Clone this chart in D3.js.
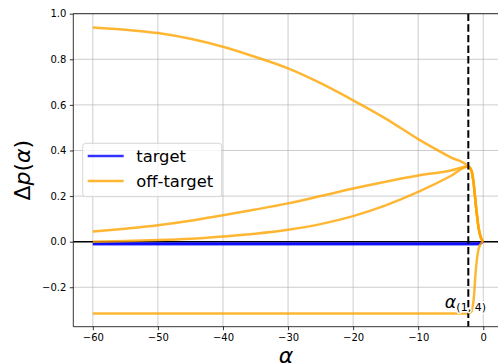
<!DOCTYPE html>
<html>
<head>
<meta charset="utf-8">
<script src="https://cdn.jsdelivr.net/npm/d3@7"></script>
<style>
  html, body { margin: 0; padding: 0; background: #fff; }
  svg { display: block; font-family: "DejaVu Sans", sans-serif; }
</style>
</head>
<body>
<svg id="chart" width="498" height="364"></svg>
<script>
// Sample points along alpha (shared by every series)
const alphas = [-60, -55, -50, -45, -40, -35, -30, -25, -20, -15, -10, -5, -2.3, -1.8, -1.5, -1.1, -0.75, -0.4, 0];

// Target series
const targetA = [-0.008, -0.008, -0.008, -0.008, -0.008, -0.008, -0.008, -0.008, -0.008, -0.008, -0.008, -0.008, -0.008, -0.008, -0.008, -0.008, -0.008, -0.005, 0];
const targetB = [-0.011, -0.011, -0.011, -0.011, -0.011, -0.011, -0.011, -0.011, -0.011, -0.011, -0.011, -0.011, -0.011, -0.011, -0.011, -0.011, -0.010, -0.006, 0];

// Off-target series
const offTop    = [0.94, 0.93, 0.915, 0.89, 0.855, 0.81, 0.76, 0.695, 0.62, 0.54, 0.45, 0.37, 0.33, 0.31, 0.26, 0.15, 0.066, 0.02, 0];
const offUpper  = [0.044, 0.057, 0.072, 0.092, 0.116, 0.141, 0.168, 0.200, 0.233, 0.263, 0.29, 0.312, 0.33, 0.31, 0.26, 0.15, 0.066, 0.02, 0];
const offLower  = [0.0, 0.003, 0.007, 0.013, 0.023, 0.035, 0.052, 0.077, 0.112, 0.159, 0.218, 0.288, 0.33, 0.31, 0.26, 0.15, 0.066, 0.02, 0];
const offNeg    = [-0.315, -0.315, -0.315, -0.315, -0.315, -0.315, -0.315, -0.315, -0.315, -0.315, -0.315, -0.315, -0.315, -0.305, -0.26, -0.11, -0.036, -0.01, 0];

const targetSeries = [targetA, targetB];
const offTargetSeries = [offTop, offUpper, offLower, offNeg];

// Critical alpha marked by the dashed line
const alphaCrit = -2.3;

const xTicks = [-60, -50, -40, -30, -20, -10, 0];
const yTicks = [-0.2, 0.0, 0.2, 0.4, 0.6, 0.8, 1.0];

const legendLabels = ["target", "off-target"];

const svg = d3.select("#chart");
const plot = { left: 73.3, top: 13.7, right: 502.8, bottom: 326.7 };

const x = d3.scaleLinear().domain([-63, 3]).range([plot.left, plot.right]);
const y = d3.scaleLinear().domain([-0.373, 1.0]).range([plot.bottom, plot.top]);

const fmtY = d => d3.format(".1f")(d).replace("-", "\u2212");
const fmtX = d => String(d).replace("-", "\u2212");

// clip region for data
svg.append("defs").append("clipPath").attr("id", "clip")
  .append("rect")
  .attr("x", plot.left).attr("y", plot.top)
  .attr("width", plot.right - plot.left).attr("height", plot.bottom - plot.top);

// grid
const grid = svg.append("g");
grid.selectAll(".gx").data(xTicks).join("line")
  .attr("x1", d => x(d)).attr("x2", d => x(d))
  .attr("y1", plot.top).attr("y2", plot.bottom)
  .attr("stroke", "#b0b0b0").attr("stroke-width", 0.8).attr("stroke-opacity", 0.8);
grid.selectAll(".gy").data(yTicks).join("line")
  .attr("y1", d => y(d)).attr("y2", d => y(d))
  .attr("x1", plot.left).attr("x2", plot.right)
  .attr("stroke", "#b0b0b0").attr("stroke-width", 0.8).attr("stroke-opacity", 0.8);

const data = svg.append("g").attr("clip-path", "url(#clip)");

// zero line
data.append("line")
  .attr("x1", plot.left).attr("x2", plot.right)
  .attr("y1", y(0)).attr("y2", y(0))
  .attr("stroke", "#000").attr("stroke-width", 1.5);

const line = d3.line()
  .x((d, i) => x(alphas[i]))
  .y(d => y(d))
  .curve(d3.curveMonotoneX);

data.selectAll(".target").data(targetSeries).join("path")
  .attr("d", line)
  .attr("fill", "none").attr("stroke", "blue").attr("stroke-opacity", 0.8)
  .attr("stroke-width", 2.5);

data.selectAll(".off").data(offTargetSeries).join("path")
  .attr("d", line)
  .attr("fill", "none").attr("stroke", "orange").attr("stroke-opacity", 0.8)
  .attr("stroke-width", 2.5).attr("stroke-linejoin", "round");

// critical alpha
data.append("line")
  .attr("x1", x(alphaCrit)).attr("x2", x(alphaCrit))
  .attr("y1", plot.top).attr("y2", plot.bottom)
  .attr("stroke", "#000").attr("stroke-width", 2)
  .attr("stroke-dasharray", "7.4,3.2");

// label for critical alpha, with white halo
const lbl = svg.append("text")
  .attr("x", x(alphaCrit) - 23.5).attr("y", 307.5)
  .attr("fill", "#000")
  .attr("stroke", "#fff").attr("stroke-width", 3).attr("stroke-linejoin", "round")
  .attr("paint-order", "stroke");
lbl.append("tspan").attr("font-size", 17.5).attr("font-style", "italic").text("\u03B1");
lbl.append("tspan").attr("font-size", 11).attr("dy", 3).text("(1, 4)");

// axes spines
const spines = svg.append("g").attr("stroke", "#000").attr("stroke-width", 0.8);
spines.append("line").attr("x1", plot.left).attr("x2", plot.left).attr("y1", plot.top).attr("y2", plot.bottom);
spines.append("line").attr("x1", plot.left).attr("x2", plot.right).attr("y1", plot.bottom).attr("y2", plot.bottom);
spines.append("line").attr("x1", plot.left).attr("x2", plot.right).attr("y1", plot.top).attr("y2", plot.top);
spines.append("line").attr("x1", plot.right).attr("x2", plot.right).attr("y1", plot.top).attr("y2", plot.bottom);

// axes
const xAxis = d3.axisBottom(x).tickValues(xTicks).tickFormat(fmtX).tickSizeInner(3.5).tickSizeOuter(0).tickPadding(3.5);
const yAxis = d3.axisLeft(y).tickValues(yTicks).tickFormat(fmtY).tickSizeInner(3.5).tickSizeOuter(0).tickPadding(3.5);

const gx = svg.append("g").attr("transform", `translate(0,${plot.bottom})`).call(xAxis);
const gy = svg.append("g").attr("transform", `translate(${plot.left},0)`).call(yAxis);
[gx, gy].forEach(g => {
  g.select(".domain").remove();
  g.selectAll(".tick line").attr("stroke", "#000").attr("stroke-width", 0.8);
  g.selectAll(".tick text").attr("fill", "#000").attr("font-size", 10)
    .attr("font-family", "DejaVu Sans, sans-serif");
});

// axis titles
const yl = svg.append("text")
  .attr("transform", `translate(30,${(plot.top + plot.bottom) / 2}) rotate(-90)`)
  .attr("text-anchor", "middle").attr("font-size", 22).attr("fill", "#000");
yl.append("tspan").text("\u0394");
yl.append("tspan").attr("font-style", "italic").text("p");
yl.append("tspan").text("(");
yl.append("tspan").attr("font-style", "italic").text("\u03B1");
yl.append("tspan").text(")");

svg.append("text")
  .attr("x", 286).attr("y", 363)
  .attr("text-anchor", "middle").attr("font-size", 22).attr("font-style", "italic")
  .attr("fill", "#000").text("\u03B1");

// legend
const lg = svg.append("g").attr("transform", "translate(82.7,143.3)");
lg.append("rect").attr("width", 139).attr("height", 53.4).attr("rx", 3)
  .attr("fill", "#fff").attr("fill-opacity", 0.8)
  .attr("stroke", "#cccccc").attr("stroke-width", 0.8);
const legendColors = ["blue", "orange"];
legendLabels.forEach((t, i) => {
  const yy = 12.7 + i * 25;
  lg.append("line").attr("x1", 5).attr("x2", 41).attr("y1", yy).attr("y2", yy)
    .attr("stroke", legendColors[i]).attr("stroke-opacity", 0.8).attr("stroke-width", 2.5);
  lg.append("text").attr("x", 53.5).attr("y", yy + 6)
    .attr("font-size", 16.4).attr("fill", "#000").text(t);
});
</script>
</body>
</html>
